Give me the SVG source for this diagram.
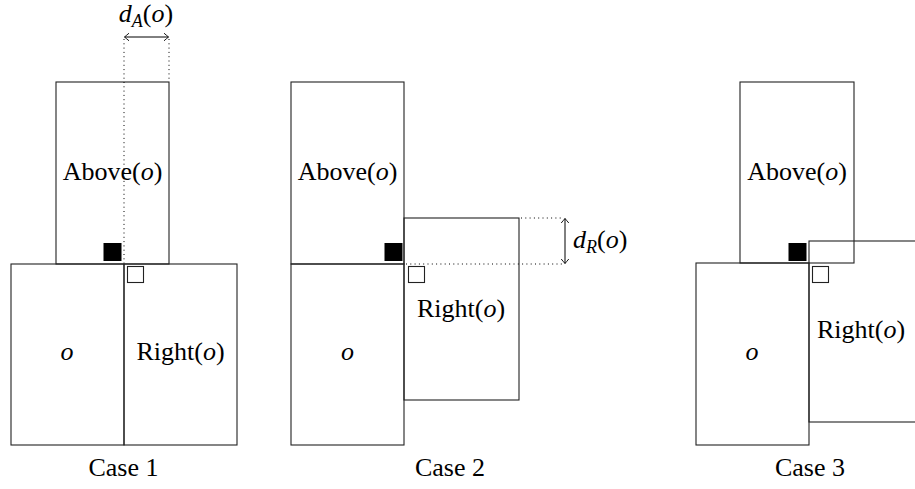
<svg xmlns="http://www.w3.org/2000/svg" width="915" height="489" viewBox="0 0 915 489" font-family="Liberation Serif" font-size="26">
  <style>
    .box { fill: none; stroke: #222; stroke-width: 1.1; }
    .blk { fill: #000; stroke: #000; stroke-width: 1; }
    .wht { fill: #fff; stroke: #222; stroke-width: 1.1; }
    .dot { fill: none; stroke: #000; stroke-width: 1; stroke-dasharray: 1 3.3; }
    .dim { fill: none; stroke: #000; stroke-width: 1; marker-start: url(#tip); marker-end: url(#tip); }
    .t { font-family: 'Liberation Serif', 'DejaVu Serif', serif; font-size: 26px; fill: #000; }
    .it { font-style: italic; }
    .sub { font-style: italic; font-size: 18px; }
  </style>
  <defs>
    <marker id="tip" viewBox="-6 -5 8 10" markerWidth="8" markerHeight="10" refX="0" refY="0" orient="auto-start-reverse" markerUnits="userSpaceOnUse">
      <path d="M -4.5,-3.8 Q -1.2,-1 0,0 Q -1.2,1 -4.5,3.8" fill="none" stroke="#000" stroke-width="0.9"/>
    </marker>
  </defs>
  <rect width="915" height="489" fill="#fff"/>

  <!-- Case 1 -->
  <g id="case1-above">
    <rect class="box" x="56" y="82" width="113" height="182"/>
    <text class="t" x="112.5" y="180" text-anchor="middle">Above(<tspan class="it">o</tspan>)</text>
  </g>
  <g id="case1-o">
    <rect class="box" x="11" y="264" width="113" height="181"/>
    <text class="t it" x="67" y="360" text-anchor="middle">o</text>
  </g>
  <g id="case1-right">
    <rect class="box" x="124" y="264" width="113" height="181"/>
    <text class="t" x="180.5" y="360" text-anchor="middle">Right(<tspan class="it">o</tspan>)</text>
  </g>
  <g id="case1-black"><rect class="blk" x="104" y="243.5" width="17" height="17"/></g>
  <g id="case1-white"><rect class="wht" x="127.5" y="266.5" width="16" height="16"/></g>
  <g id="case1-label"><text class="t" x="123.5" y="476" text-anchor="middle">Case 1</text></g>
  <g id="case1-dA"><text class="t" x="146" y="22" text-anchor="middle"><tspan class="it">d</tspan><tspan class="sub" dy="5">A</tspan><tspan dy="-5">(</tspan><tspan class="it">o</tspan>)</text></g>

  <!-- Case 2 -->
  <g id="case2-above">
    <rect class="box" x="291" y="82" width="113" height="182"/>
    <text class="t" x="347.5" y="180" text-anchor="middle">Above(<tspan class="it">o</tspan>)</text>
  </g>
  <g id="case2-o">
    <rect class="box" x="291" y="264" width="113" height="181"/>
    <text class="t it" x="347.5" y="360" text-anchor="middle">o</text>
  </g>
  <g id="case2-right">
    <rect class="box" x="404" y="218" width="115" height="182"/>
    <text class="t" x="461" y="317" text-anchor="middle">Right(<tspan class="it">o</tspan>)</text>
  </g>
  <g id="case2-black"><rect class="blk" x="385" y="243.5" width="17" height="17"/></g>
  <g id="case2-white"><rect class="wht" x="408.5" y="266.5" width="16" height="16"/></g>
  <g id="case2-label"><text class="t" x="450" y="476" text-anchor="middle">Case 2</text></g>
  <g id="case2-dR"><text class="t" x="573" y="248"><tspan class="it">d</tspan><tspan class="sub" dy="5">R</tspan><tspan dy="-5">(</tspan><tspan class="it">o</tspan>)</text></g>

  <!-- Case 3 -->
  <g id="case3-above">
    <rect class="box" x="740" y="82" width="114" height="181"/>
    <text class="t" x="797" y="180" text-anchor="middle">Above(<tspan class="it">o</tspan>)</text>
  </g>
  <g id="case3-o">
    <rect class="box" x="696" y="263" width="113" height="182"/>
    <text class="t it" x="752" y="360" text-anchor="middle">o</text>
  </g>
  <g id="case3-right">
    <rect class="box" x="809" y="241" width="120" height="181"/>
    <text class="t" x="817" y="338">Right(<tspan class="it">o</tspan>)</text>
  </g>
  <g id="case3-black"><rect class="blk" x="789" y="243.5" width="17" height="17"/></g>
  <g id="case3-white"><rect class="wht" x="812.5" y="266.5" width="16" height="16"/></g>
  <g id="case3-label"><text class="t" x="810" y="476" text-anchor="middle">Case 3</text></g>

  <!-- connectors -->
  <g id="connectors">
    <line class="dot" x1="124" y1="39" x2="124" y2="263"/>
    <line class="dot" x1="169" y1="39" x2="169" y2="82"/>
    <line class="dim" x1="124.5" y1="37" x2="168.5" y2="37"/>
    <line class="dot" x1="521" y1="218" x2="563" y2="218"/>
    <line class="dot" x1="406" y1="264" x2="563" y2="264"/>
    <line class="dim" x1="565" y1="218.5" x2="565" y2="263.5"/>
  </g>
</svg>
